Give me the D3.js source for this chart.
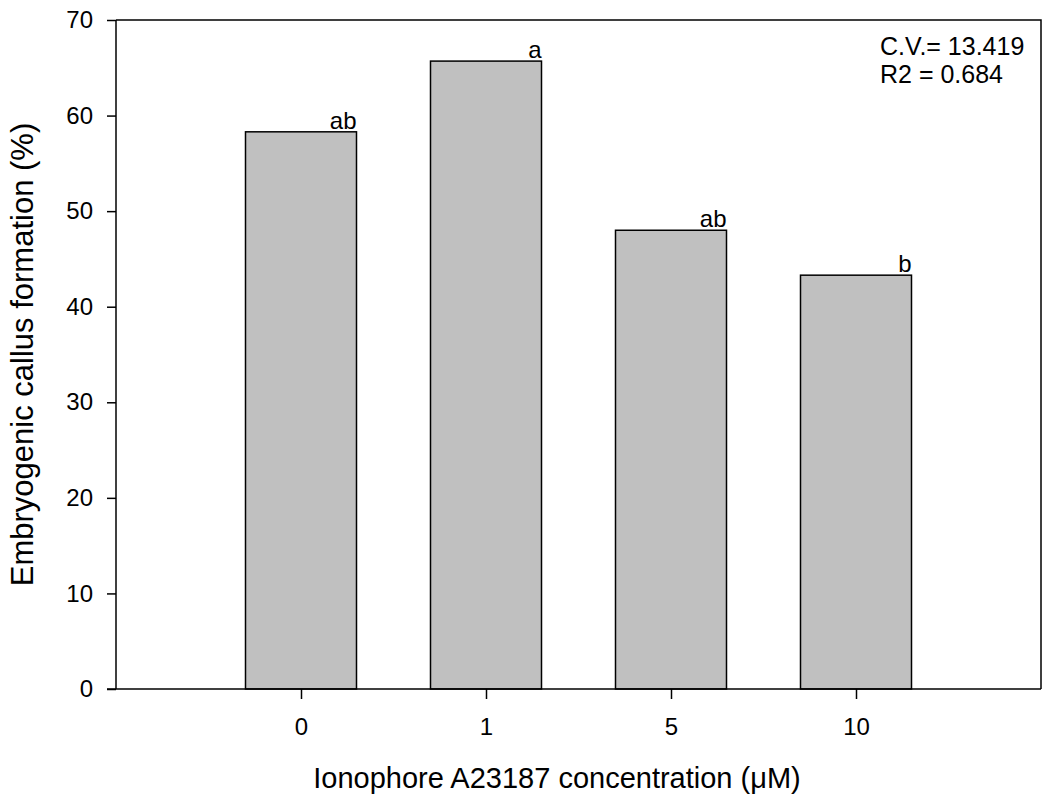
<!DOCTYPE html>
<html>
<head>
<meta charset="utf-8">
<script src="https://cdn.jsdelivr.net/npm/d3@7"></script>
<style>
  body { margin: 0; background: #fff; }
  svg { display: block; font-family: "Liberation Sans", Arial, sans-serif; }
</style>
</head>
<body>
<svg></svg>
<script>
// chart data
var concentrations = ["0", "1", "5", "10"];
var callusPct = [58.3, 65.7, 48.0, 43.3];
var letters = ["ab", "a", "ab", "b"];
var yTicks = [0, 10, 20, 30, 40, 50, 60, 70];
var statsText = ["C.V.= 13.419", "R2 = 0.684"];

var width = 1042,
  height = 794;

var svg = d3.select("svg")
  .attr("width", width)
  .attr("height", height);

// plot box
var plotLeft = 116, plotRight = 1041, plotTop = 20, plotBottom = 689;

var x = d3.scalePoint()
  .domain(concentrations)
  .range([plotLeft, plotRight])
  .padding(1);

var y = d3.scaleLinear()
  .domain([0, 70])
  .range([plotBottom, plotTop]);

var barW = x.step() * 0.6;

var data = concentrations.map(function(c, i) {
  return { conc: c, value: callusPct[i], letter: letters[i] };
});

// bars
svg.append("g")
  .selectAll("rect")
  .data(data)
  .enter().append("rect")
  .attr("x", function(d) { return x(d.conc) - barW / 2; })
  .attr("y", function(d) { return y(d.value); })
  .attr("width", barW)
  .attr("height", function(d) { return y(0) - y(d.value); })
  .attr("fill", "#c0c0c0")
  .attr("stroke", "#000")
  .attr("stroke-width", 1.5);

// significance letters, right aligned on bar edge
svg.append("g")
  .selectAll("text")
  .data(data)
  .enter().append("text")
  .attr("x", function(d) { return x(d.conc) + barW / 2; })
  .attr("y", function(d) { return y(d.value) - 3; })
  .attr("text-anchor", "end")
  .style("font-size", "24px")
  .text(function(d) { return d.letter; });

// frame: top and right lines
svg.append("path")
  .attr("d", "M" + plotLeft + "," + plotTop + "H" + plotRight + "V" + plotBottom)
  .attr("fill", "none")
  .attr("stroke", "#000")
  .attr("stroke-width", 1.5);

// axes
var yAxis = svg.append("g")
  .attr("transform", "translate(" + plotLeft + ",0)")
  .call(d3.axisLeft(y).tickValues(yTicks).tickSize(9).tickPadding(14).tickSizeOuter(0));

var xAxis = svg.append("g")
  .attr("transform", "translate(0," + plotBottom + ")")
  .call(d3.axisBottom(x).tickSize(10).tickPadding(19).tickSizeOuter(0));

[yAxis, xAxis].forEach(function(a) {
  a.select(".domain").attr("stroke", "#000").attr("stroke-width", 1.5);
  a.selectAll(".tick line").attr("stroke", "#000").attr("stroke-width", 1.5);
  a.selectAll(".tick text")
    .attr("fill", "#000")
    .style("font-size", "24px")
    .style("font-family", "'Liberation Sans', Arial, sans-serif");
});
yAxis.select(".domain").attr("d", "M0," + plotTop + "V" + plotBottom);
xAxis.select(".domain").attr("d", "M" + (plotLeft - 9) + ",0H" + plotRight);

// stats box
svg.append("g")
  .selectAll("text")
  .data(statsText)
  .enter().append("text")
  .attr("x", 880)
  .attr("y", function(d, i) { return 55 + i * 28; })
  .style("font-size", "25px")
  .text(function(d) { return d; });

// axis titles
svg.append("text")
  .attr("x", 557)
  .attr("y", 788)
  .attr("text-anchor", "middle")
  .style("font-size", "29px")
  .text("Ionophore A23187 concentration (\u03bcM)");

svg.append("text")
  .attr("transform", "translate(33," + (plotTop + plotBottom) / 2 + ") rotate(-90)")
  .attr("text-anchor", "middle")
  .style("font-size", "31px")
  .text("Embryogenic callus formation (%)");
</script>
</body>
</html>
